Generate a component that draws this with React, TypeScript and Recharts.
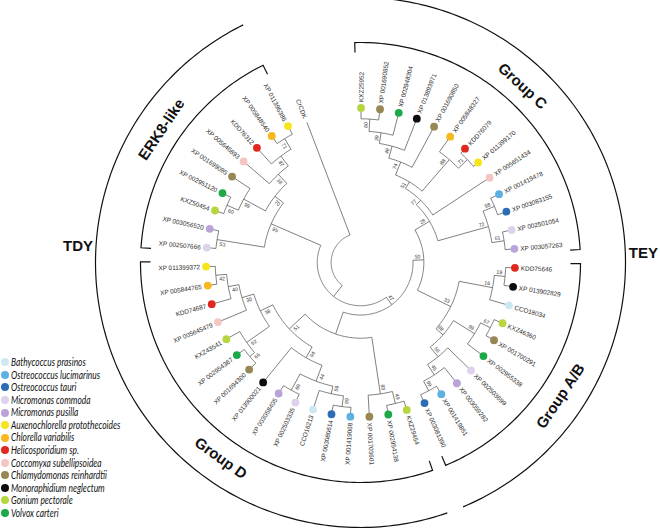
import React from 'react';
import { ScatterChart, Scatter, XAxis, YAxis } from 'recharts';

// page position of the tree centre and ring radii (px)
const W = 660;
const H = 529;
const CX = 360.5;
const CY = 262.5;
const LEAF_R = 154.5;
const CRCDK_R = 150;
const GROUP_R = 220;
const CLADE_R = 265;

const speciesNames = [
  'Bathycoccus prasinos',
  'Ostreococcus lucimarinus',
  'Ostreococcus tauri',
  'Micromonas commoda',
  'Micromonas pusilla',
  'Auxenochlorella protothecoides',
  'Chlorella variabilis',
  'Helicosporidium sp.',
  'Coccomyxa subellipsoidea',
  'Chlamydomonas reinhardtii',
  'Monoraphidium neglectum',
  'Gonium pectorale',
  'Volvox carteri',
];
const speciesColors = [
  '#cde8f2', '#5cb1e1', '#2d6db6', '#ddd2eb', '#baa3d9', '#f5e51b', '#f8b71c',
  '#e0281e', '#f3c6c4', '#978755', '#0d0d0d', '#b6d63f', '#1ca947',
];

// tips, clockwise from the top
const leafNames = [
  'KXZ25952', 'XP 001690852', 'XP 002948304', 'XP 013893971', 'XP 001690850', 'XP 005848327',
  'KDD76079', 'XP 011399170', 'XP 005651434', 'XP 001419478', 'XP 003083155', 'XP 002501054', 'XP 003057263',
  'KDD75646', 'XP 013902829', 'CCO18034', 'KXZ46360', 'XP 001700291', 'XP 002955338', 'XP 002503699',
  'XP 003059282', 'XP 001419851', 'XP 003081390',
  'KXZ29454', 'XP 002954138', 'XP 001703601', 'XP 001419068', 'XP 003080614', 'CCO16213', 'XP 002503335',
  'XP 003058405', 'XP 013900021', 'XP 001694300', 'XP 002954367', 'KXZ43541', 'XP 005645479', 'KDD74687',
  'XP 005844765', 'XP 011399372',
  'XP 002507666', 'XP 003056520', 'KXZ50454', 'XP 002951120', 'XP 001699095', 'XP 005646893', 'KDD76312',
  'XP 005848540', 'XP 011396386',
  'CrCDK',
];
const leafSpecies = [
  11, 9, 12, 10, 9, 6, 7, 5, 8, 1, 2, 3, 4,
  7, 10, 0, 11, 9, 12, 3, 4, 1, 2,
  11, 12, 9, 1, 2, 0, 3, 4, 10, 9, 12, 11, 8, 7, 6, 5,
  3, 4, 11, 12, 9, 8, 7, 6, 5,
  -1,
];

// internal nodes: children, bootstrap and depth (tips = 100)
const nodeNames = [
  'c60', 'c39', 'c48', 'c74', 'c71', 'c88', 'c51', 'c77', 'c98', 'c61', 'c72', 'c28',
  'b19', 'b16', 'b67', 'b99', 'b99o', 'b45', 'b56', 'b98', 'b33', 'c50',
  'd49', 'd83', 'd99', 'd59', 'd69', 'd44', 'd94', 'd66', 'd62', 'd42', 'd40', 'd30', 'd38', 'd51', 'dRoot', 'n47',
  'e53', 'e60', 'e99', 'e71', 'e87', 'e38', 'e70', 'e95', 'nA', 'root',
];
const nodeKids: [string, string][] = [
  ['L0', 'L1'], ['c60', 'L2'], ['c39', 'L3'], ['c48', 'L4'], ['L6', 'L7'], ['L5', 'c71'], ['c74', 'c88'],
  ['c51', 'L8'], ['L9', 'L10'], ['L11', 'L12'], ['c98', 'c61'], ['c77', 'c72'],
  ['L13', 'L14'], ['b19', 'L15'], ['L16', 'L17'], ['b67', 'L18'], ['L21', 'L22'], ['L20', 'b99o'], ['L19', 'b45'],
  ['b99', 'b56'], ['b16', 'b98'], ['c28', 'b33'],
  ['L23', 'L24'], ['d49', 'L25'], ['L26', 'L27'], ['d99', 'L28'], ['L29', 'L30'], ['d59', 'd69'], ['d44', 'L31'],
  ['L32', 'L33'], ['d66', 'L34'], ['L37', 'L38'], ['L36', 'd42'], ['L35', 'd40'], ['d62', 'd30'], ['d94', 'd38'],
  ['d83', 'd51'], ['c50', 'dRoot'],
  ['L39', 'L40'], ['L41', 'L42'], ['e60', 'L43'], ['L46', 'L47'], ['L45', 'e71'], ['L44', 'e87'], ['e99', 'e38'],
  ['e53', 'e70'], ['n47', 'e95'], ['nA', 'L48'],
];
const nodeSupport = [
  60, 39, 48, 74, 71, 88, 51, 77, 98, 61, 72, 28,
  19, 16, 67, 99, 99, 45, 56, 98, 33, 50,
  49, 83, 99, 59, 69, 44, 94, 66, 62, 42, 40, 30, 38, 51, null, 47,
  53, 60, 99, 71, 87, 38, 70, 95, null, null,
];
const nodeDepth = [
  93, 85, 78, 70, 96, 88, 61, 56, 94, 94, 86, 52,
  94, 87, 94, 87, 94, 87, 79, 71, 65, 41,
  94, 86, 94, 87, 94, 82, 71, 94, 90, 94, 87, 80, 72, 63, 49, 34,
  94, 94, 86, 94, 86, 78, 70, 63, 28, 19,
];

const groupNames = ['Group C', 'Group A/B', 'Group D', 'ERK8-like'];
const groupFirst = [0, 13, 23, 39];
const groupLast = [12, 22, 38, 47];

const cladeNames = ['TEY', 'TDY'];
const cladeFirst = [0, 23];
const cladeLast = [22, 47];

// ---- layout ----
const START = 0.2;
const STEP = 7.06;
const PAD = 1.7;
const rad = (d: number) => (d * Math.PI) / 180;
const polar = (deg: number, r: number) => ({ x: r * Math.sin(rad(deg)), y: r * Math.cos(rad(deg)) });
const leafAngle = (i: number) => START + i * STEP;

const idx: Record<string, number> = {};
nodeNames.forEach((n, i) => (idx[n] = i));
const isLeaf = (ref: string) => ref.startsWith('L');

function angleOf(ref: string): number {
  if (isLeaf(ref)) return leafAngle(Number(ref.slice(1)));
  const [a, b] = nodeKids[idx[ref]];
  return (angleOf(a) + angleOf(b)) / 2;
}
function radiusOf(ref: string): number {
  if (isLeaf(ref)) return leafSpecies[Number(ref.slice(1))] < 0 ? CRCDK_R : LEAF_R;
  return (nodeDepth[idx[ref]] / 100) * LEAF_R;
}
function arc(a0: number, a1: number, r: number) {
  const n = Math.max(2, Math.ceil(Math.abs(a1 - a0)));
  return Array.from({ length: n + 1 }, (_, k) => polar(a0 + ((a1 - a0) * k) / n, r));
}

const branches = nodeNames.map((name, i) => {
  const [a, b] = nodeKids[i];
  const r = radiusOf(name);
  const a0 = angleOf(a);
  const a1 = angleOf(b);
  return [polar(a0, radiusOf(a)), ...arc(a0, a1, r), polar(a1, radiusOf(b))];
});

const leaves = leafNames.map((name, i) => ({
  ...polar(leafAngle(i), LEAF_R),
  angle: leafAngle(i),
  name,
  color: leafSpecies[i] >= 0 ? speciesColors[leafSpecies[i]] : null,
}));

const supports = nodeNames
  .map((name, i) => {
    const a = angleOf(name);
    const r = radiusOf(name);
    return { ...polar(a - (4 / r) * (180 / Math.PI), r - 6), angle: a, text: nodeSupport[i] };
  })
  .filter((d) => d.text !== null);

const groupBrackets = groupNames.map((_, i) => {
  const a0 = leafAngle(groupFirst[i]) - PAD;
  const a1 = leafAngle(groupLast[i]) + PAD;
  return [polar(a0, GROUP_R - 10), ...arc(a0, a1, GROUP_R), polar(a1, GROUP_R - 10)];
});
const cladeArcs = cladeNames.map((_, i) =>
  arc(leafAngle(cladeFirst[i]) - PAD, leafAngle(cladeLast[i]) + PAD, CLADE_R)
);

const groupLabels = groupNames.map((name, i) => {
  const a = (leafAngle(groupFirst[i]) + leafAngle(groupLast[i])) / 2;
  return { ...polar(a, 240), angle: a, name };
});
const cladeLabels = [
  { ...polar(88, 283), angle: 0, name: cladeNames[0] },
  { ...polar(273.5, 283), angle: 0, name: cladeNames[1] },
];

// ---- shapes ----
const Nothing = () => <g />;

const LeafShape = (props: any) => {
  const { cx, cy } = props;
  const p = props.payload ?? props;
  const a = rad(p.angle);
  const right = p.angle < 180;
  const rot = right ? p.angle - 90 : p.angle + 90;
  const gap = p.color ? 6 : 0;
  const tx = cx + Math.sin(a) * gap;
  const ty = cy - Math.cos(a) * gap;
  return (
    <g>
      {p.color && <circle cx={cx} cy={cy} r={3.9} fill={p.color} />}
      <text
        x={tx}
        y={ty}
        transform={`rotate(${rot} ${tx} ${ty})`}
        textAnchor={right ? 'start' : 'end'}
        dominantBaseline="central"
        fontSize={6.4}
        fontFamily="'Liberation Sans', Arial, sans-serif"
        fill="#2b2b2b"
      >
        {p.name}
      </text>
    </g>
  );
};

const SupportShape = (props: any) => {
  const { cx, cy } = props;
  const p = props.payload ?? props;
  const rot = p.angle < 180 ? p.angle - 90 : p.angle + 90;
  return (
    <text
      x={cx}
      y={cy}
      transform={`rotate(${rot} ${cx} ${cy})`}
      textAnchor="middle"
      dominantBaseline="central"
      fontSize={5.2}
      fontFamily="'Liberation Sans', Arial, sans-serif"
      fill="#333"
    >
      {p.text}
    </text>
  );
};

const TitleShape = (props: any) => {
  const { cx, cy } = props;
  const p = props.payload ?? props;
  let rot = p.angle;
  if (rot > 90 && rot < 270) rot -= 180;
  return (
    <text
      x={cx}
      y={cy}
      transform={`rotate(${rot} ${cx} ${cy})`}
      textAnchor="middle"
      dominantBaseline="central"
      fontSize={15}
      fontWeight="bold"
      fontFamily="'Liberation Sans', Arial, sans-serif"
      fill="#111"
    >
      {p.name}
    </text>
  );
};

export default function App() {
  return (
    <div style={{ position: 'absolute', left: 0, top: 0, width: W, height: H, background: '#fff' }}>
      <ScatterChart width={W} height={H} margin={{ top: 0, right: 0, bottom: 0, left: 0 }}>
        <XAxis type="number" dataKey="x" domain={[-CX, W - CX]} allowDataOverflow hide />
        <YAxis type="number" dataKey="y" domain={[CY - H, CY]} allowDataOverflow hide />
        {cladeArcs.map((pts, i) => (
          <Scatter
            key={`clade-${i}`}
            data={pts}
            line={{ stroke: '#111', strokeWidth: 1.2 }}
            shape={Nothing}
            isAnimationActive={false}
          />
        ))}
        {groupBrackets.map((pts, i) => (
          <Scatter
            key={`group-${i}`}
            data={pts}
            line={{ stroke: '#111', strokeWidth: 1.2 }}
            shape={Nothing}
            isAnimationActive={false}
          />
        ))}
        {branches.map((pts, i) => (
          <Scatter
            key={`br-${nodeNames[i]}`}
            data={pts}
            line={{ stroke: '#555', strokeWidth: 0.75 }}
            shape={Nothing}
            isAnimationActive={false}
          />
        ))}
        <Scatter data={leaves} shape={LeafShape} isAnimationActive={false} />
        <Scatter data={supports} shape={SupportShape} isAnimationActive={false} />
        <Scatter data={[...groupLabels, ...cladeLabels]} shape={TitleShape} isAnimationActive={false} />
      </ScatterChart>
      <div style={{ position: 'absolute', left: 1, top: 356 }}>
        {speciesNames.map((n, i) => (
          <div key={n} style={{ height: 12.57, display: 'flex', alignItems: 'center', whiteSpace: 'nowrap' }}>
            <span
              style={{
                display: 'inline-block',
                flex: 'none',
                width: 8,
                height: 8,
                borderRadius: '50%',
                background: speciesColors[i],
                marginRight: 2,
              }}
            />
            <span
              style={{
                display: 'inline-block',
                fontFamily: 'Lato, sans-serif',
                fontStyle: 'italic',
                fontSize: 10.5,
                color: '#111',
                lineHeight: '12.57px',
                transform: 'scaleX(0.8)',
                transformOrigin: 'left center',
              }}
            >
              {n}
            </span>
          </div>
        ))}
      </div>
    </div>
  );
}
